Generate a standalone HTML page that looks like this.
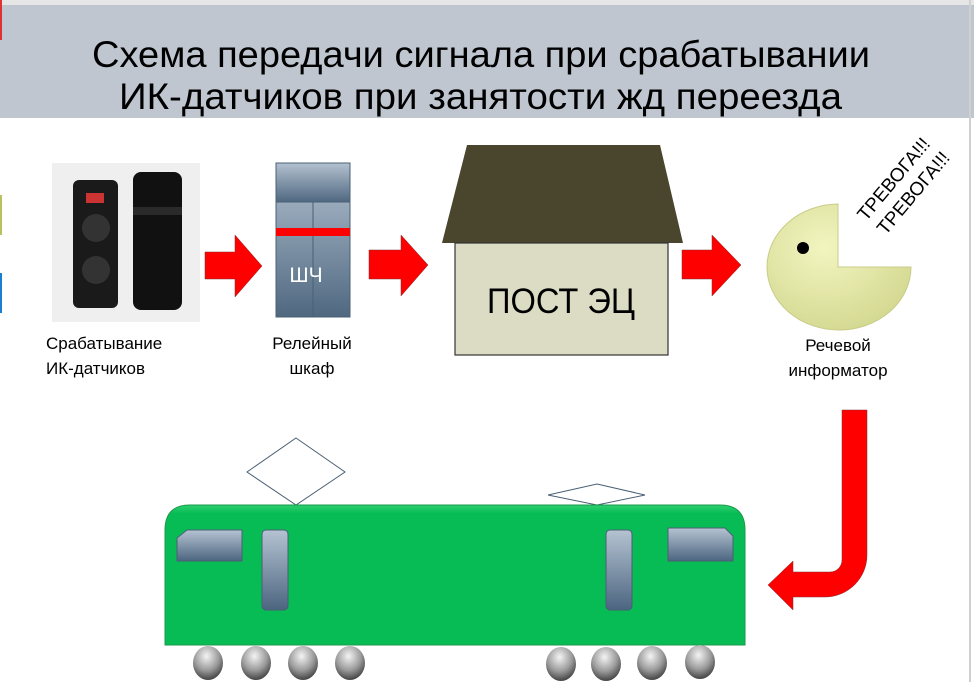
<!DOCTYPE html>
<html><head><meta charset="utf-8"><style>
body{margin:0;width:974px;height:682px;overflow:hidden;background:#fff;font-family:"Liberation Sans",sans-serif;position:relative}
.lbl{position:absolute;font-size:17px;color:#000;line-height:25px}
</style></head><body>
<svg width="974" height="682" style="position:absolute;left:0;top:0">
<defs>
<linearGradient id="cab" x1="0" y1="0" x2="0" y2="1"><stop offset="0" stop-color="#b3c1d0"/><stop offset="1" stop-color="#4f6880"/></linearGradient>
<linearGradient id="dr" x1="0" y1="0" x2="0" y2="1"><stop offset="0" stop-color="#b5c3d2"/><stop offset="1" stop-color="#4c6580"/></linearGradient>
<radialGradient id="wh" cx="0.45" cy="0.3" r="0.7"><stop offset="0" stop-color="#f4f4f4"/><stop offset="0.6" stop-color="#9a9a9a"/><stop offset="1" stop-color="#444"/></radialGradient>
<radialGradient id="pac" cx="0.4" cy="0.35" r="0.7"><stop offset="0" stop-color="#f3f5c0"/><stop offset="1" stop-color="#d3d890"/></radialGradient>
<linearGradient id="grn" x1="0" y1="0" x2="0" y2="1"><stop offset="0" stop-color="#2ed070"/><stop offset="0.06" stop-color="#08bc55"/><stop offset="1" stop-color="#08bc55"/></linearGradient>
</defs>
<rect x="0" y="0" width="974" height="118" fill="#bfc6d0"/>
<rect x="0" y="0" width="974" height="5" fill="#e6e6e6"/>
<rect x="969" y="0" width="2" height="682" fill="#d0d0d0"/>
<rect x="0" y="0" width="2" height="40" fill="#d33"/>
<rect x="0" y="195" width="2" height="40" fill="#b8c060"/>
<rect x="0" y="273" width="2" height="40" fill="#1a7fd0"/>
<text x="92" y="67" font-size="37" textLength="778" lengthAdjust="spacingAndGlyphs" font-family="Liberation Sans">Схема передачи сигнала при срабатывании</text>
<text x="119" y="109" font-size="37" textLength="723" lengthAdjust="spacingAndGlyphs" font-family="Liberation Sans">ИК-датчиков при занятости жд переезда</text>
<!-- sensors -->
<rect x="52" y="163" width="148" height="159" fill="#efefef"/>
<rect x="73" y="180" width="45" height="128" rx="6" fill="#1a1a1a"/>
<rect x="86" y="193" width="18" height="10" fill="#c33"/>
<circle cx="96" cy="228" r="14" fill="#333"/><circle cx="96" cy="270" r="14" fill="#333"/>
<rect x="133" y="172" width="49" height="138" rx="8" fill="#111"/>
<rect x="133" y="207" width="49" height="8" fill="#2a2a2a"/>
<!-- cabinet -->
<rect x="276" y="163" width="74" height="154" fill="url(#cab)" stroke="#4a6075" stroke-width="1"/>
<rect x="276" y="163" width="74" height="39" fill="url(#cab)" stroke="#4a6075"/>
<line x1="313" y1="202" x2="313" y2="317" stroke="#4a6075"/>
<rect x="276" y="228" width="74" height="8" fill="#f00"/>
<text x="306" y="282" font-size="21" fill="#fff" text-anchor="middle" font-family="Liberation Sans">ШЧ</text>
<!-- arrows -->
<g fill="#f00" stroke="#7a3030" stroke-width="0.5">
<polygon points="205,252 235,252 235,235 262,266 235,297 235,279 205,279"/>
<polygon points="369,250 401,250 401,235 428,265 401,296 401,279 369,279"/>
<polygon points="682,250 712,250 712,235 741,265 712,296 712,279 682,279"/>
<path d="M842,410 H867 V555 A42,42 0 0 1 825,597 H793 V610 L768,585 L793,561 V572 H830 A12,12 0 0 0 842,560 Z"/>
</g>
<!-- house -->
<polygon points="467,145 660,145 683,243 442,243" fill="#4a452d"/>
<rect x="455" y="243" width="213" height="112" fill="#dcdcc5" stroke="#333" stroke-width="1.2"/>
<text x="561" y="313" font-size="35" text-anchor="middle" textLength="148" lengthAdjust="spacingAndGlyphs" font-family="Liberation Sans">ПОСТ ЭЦ</text>
<!-- pacman -->
<path d="M838,267 V204 A72,63 0 1 0 911,267 Z" fill="url(#pac)" stroke="#c8cc88" stroke-width="1"/>
<circle cx="803" cy="248" r="6" fill="#000"/>
<g transform="translate(866,222) rotate(-50)" font-size="19" font-family="Liberation Sans"><text x="0" y="0">ТРЕВОГА!!!</text><text x="2" y="24">ТРЕВОГА!!!</text></g>
<!-- pantographs -->
<polygon points="296,438 345,472 296,505 247,472" fill="#fff" stroke="#4a6075"/>
<polygon points="597,484 645,495 597,505 548,495" fill="#fff" stroke="#4a6075"/>
<!-- train -->
<path d="M165,645 V530 Q165,505 190,505 H720 Q745,505 745,530 V645 Z" fill="url(#grn)" stroke="#1a9a4a"/>
<path d="M177,538 L187,530 H242 V561 H177 Z" fill="url(#dr)" stroke="#4a6075"/>
<rect x="262" y="530" width="26" height="80" rx="4" fill="url(#dr)" stroke="#4a6075"/>
<rect x="606" y="530" width="26" height="80" rx="4" fill="url(#dr)" stroke="#4a6075"/>
<path d="M668,528 H725 L733,536 V561 H668 Z" fill="url(#dr)" stroke="#4a6075"/>
<g fill="url(#wh)">
<ellipse cx="208" cy="663" rx="15" ry="17"/><ellipse cx="256" cy="663" rx="15" ry="17"/><ellipse cx="303" cy="663" rx="15" ry="17"/><ellipse cx="350" cy="663" rx="15" ry="17"/>
<ellipse cx="561" cy="664" rx="15" ry="17"/><ellipse cx="606" cy="664" rx="15" ry="17"/><ellipse cx="652" cy="663" rx="15" ry="17"/><ellipse cx="700" cy="662" rx="15" ry="17"/>
</g>
</svg>
<div class="lbl" style="left:46px;top:331px">Срабатывание<br>ИК-датчиков</div>
<div class="lbl" style="left:262px;top:331px;width:100px;text-align:center">Релейный<br>шкаф</div>
<div class="lbl" style="left:778px;top:333px;width:120px;text-align:center">Речевой<br>информатор</div>
</body></html>
